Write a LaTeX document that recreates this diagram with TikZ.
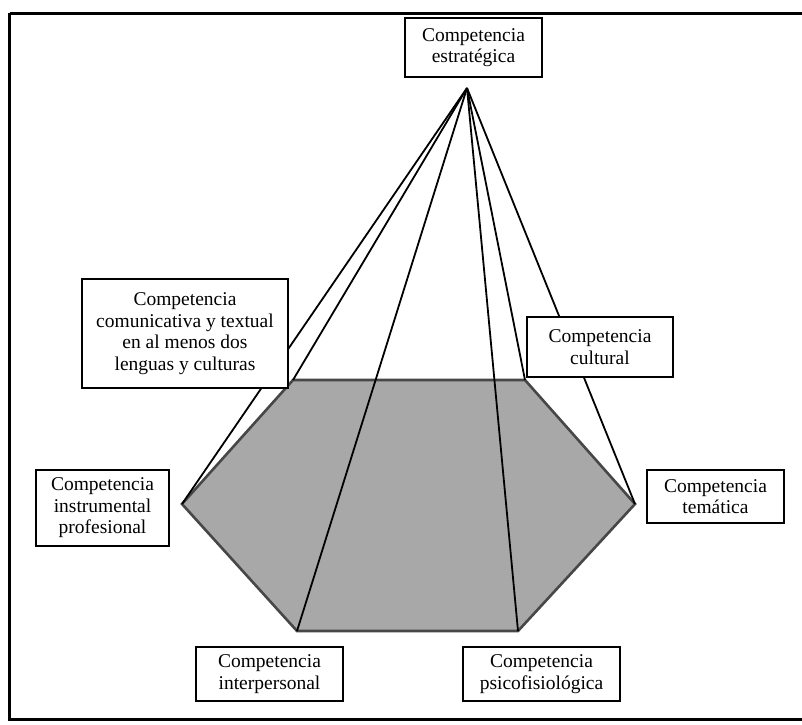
\documentclass[tikz,border=0pt]{standalone}
\usepackage{fontspec}
\setmainfont{Liberation Serif}
\begin{document}
\begin{tikzpicture}[x=1pt,y=-1pt,
  compbox/.style={draw=black,line width=2.2pt,fill=white,inner sep=0pt,
    align=center,font=\fontsize{19.5}{21.5}\selectfont},
  edge/.style={draw=black,line width=1.8pt},
  base/.style={fill=black!34,draw=black!72,line width=2.6pt,line join=miter}]
\useasboundingbox (0,0) rectangle (802,724);
% outer frame
\draw[line width=3pt] (9.5,13) -- (806,13);
\draw[line width=3pt] (9.5,13) -- (9.5,719) -- (806,719);

% apex and hexagonal base
\coordinate (apex) at (467,88);
\coordinate (tl) at (293,380);
\coordinate (tr) at (525,380);
\coordinate (r)  at (635,504);
\coordinate (br) at (518,631);
\coordinate (bl) at (297,631);
\coordinate (l)  at (182,504);
\path[base] (tl) -- (tr) -- (r) -- (br) -- (bl) -- (l) -- cycle;

% edges of the pyramid
\foreach \v in {tl,tr,r,br,bl,l}
  \draw[edge] (apex) -- (\v);

% competences
\node[compbox,minimum width=137pt,minimum height=59pt] (estr) at (473.5,47.5)
  {Competencia\\estratégica};
\node[compbox,minimum width=206pt,minimum height=109pt] (comu) at (185,333.5)
  {Competencia\\comunicativa y textual\\en al menos dos\\lenguas y culturas};
\node[compbox,minimum width=146pt,minimum height=60pt] (cult) at (600,347)
  {Competencia\\cultural};
\node[compbox,minimum width=133pt,minimum height=76pt] (inst) at (102.5,508)
  {Competencia\\instrumental\\profesional};
\node[compbox,minimum width=137pt,minimum height=53pt] (tema) at (715.5,496.5)
  {Competencia\\temática};
\node[compbox,minimum width=147pt,minimum height=54pt] (inter) at (269.5,674)
  {Competencia\\interpersonal};
\node[compbox,minimum width=157pt,minimum height=54pt] (psic) at (541.5,674)
  {Competencia\\psicofisiológica};
\end{tikzpicture}
\end{document}
